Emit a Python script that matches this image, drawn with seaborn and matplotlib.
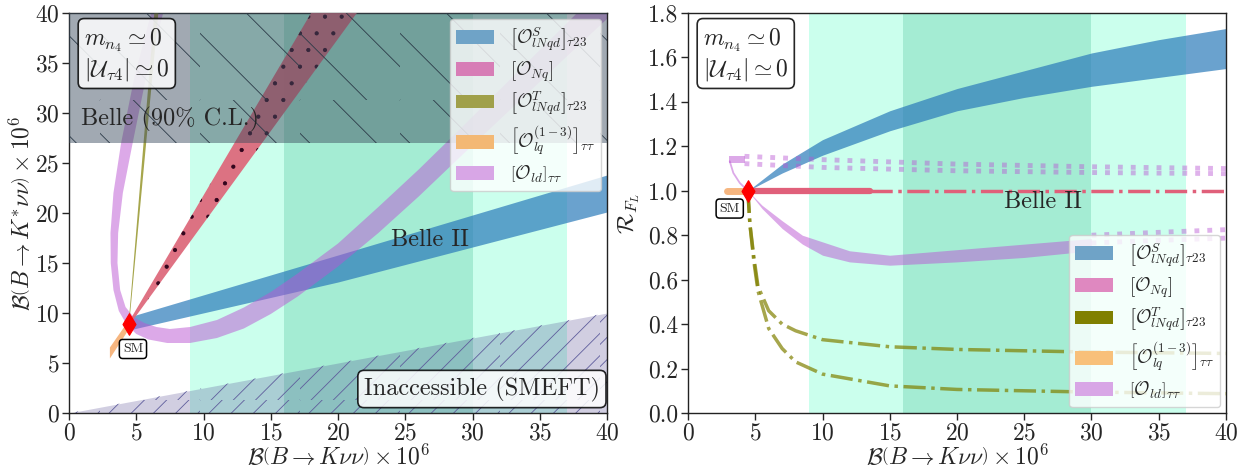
import numpy as np
import pandas as pd
import matplotlib
matplotlib.use('Agg')
import matplotlib.pyplot as plt
from matplotlib.patches import Patch
from matplotlib.backend_bases import GraphicsContextBase
import seaborn as sns

# sparser hatching than matplotlib's default (closer to the reference)
_hatch_path = GraphicsContextBase.get_hatch_path
GraphicsContextBase.get_hatch_path = lambda self, density=3.0: _hatch_path(self, density)

# ---- data (left panel: B(B->K*nunu) vs B(B->Knunu)) ----
sm_left = (4.45, 8.9)
sm_right = (4.45, 1.0)

belle2_1s = [16.0, 30.0]
belle2_2s = [9.0, 37.0]
belle_excl = 27.0

blue_x = [4.45, 20.0, 40.0]
blue_lo = [8.3, 13.1, 20.1]
blue_hi = [9.6, 15.8, 23.8]

red_y = [9.0, 40.0]
red_xl = [4.4, 18.0]
red_xr = [4.6, 21.4]

olive_y = [9.5, 40.0]
olive_xl = [4.42, 6.3]
olive_xr = [4.47, 6.6]

orange_x = [3.0, 4.45]
orange_lo = [5.5, 8.5]
orange_hi = [6.6, 9.4]

# purple U-shaped band: outer edge (left branch top -> bottom -> right branch) and inner edge
purple_out_x = [6.1, 4.86, 3.87, 3.3, 3.08, 3.1, 3.3, 3.7, 4.3, 5.0, 5.9, 7.3, 9.0, 11.0, 13.0, 15.0,
                17.0, 20.0, 23.0, 26.0, 29.0, 32.0, 35.0, 38.0, 40.0]
purple_out_y = [40.0, 33.6, 27.0, 22.0, 18.0, 15.0, 12.3, 10.2, 8.8, 7.9, 7.35, 7.0, 7.0, 7.5, 8.45, 9.9,
                11.65, 14.65, 18.0, 21.65, 25.5, 29.3, 33.1, 36.9, 39.4]
purple_in_x = [7.0, 5.73, 4.73, 4.0, 3.65, 3.6, 3.8, 4.2, 4.8, 5.6, 6.5, 7.5, 9.0, 11.0, 13.0, 15.0,
               17.0, 20.0, 23.0, 26.0, 29.0, 32.0, 35.0, 38.0, 40.0]
purple_in_y = [40.0, 33.6, 27.0, 22.0, 18.0, 15.0, 12.3, 10.6, 9.6, 9.0, 8.6, 8.4, 8.6, 9.3, 10.55, 12.1,
               13.95, 16.95, 20.6, 24.35, 28.3, 32.3, 36.3, 40.3, 43.0]

smeft_x = [0.0, 40.0]
smeft_hi = [0.0, 10.0]

# ---- right panel: R_FL vs B(B->Knunu) ----
rb_x = [4.45, 7.0, 10.0, 15.0, 20.0, 25.0, 30.0, 35.0, 40.0]
rb_lo = [1.0, 1.08, 1.16, 1.27, 1.36, 1.42, 1.47, 1.51, 1.55]
rb_hi = [1.0, 1.12, 1.23, 1.36, 1.46, 1.54, 1.62, 1.68, 1.73]

rp_x = [4.45, 5.5, 7.0, 8.5, 10.0, 12.0, 15.0, 20.0, 25.0, 30.0]
rp_lo = [1.0, 0.92, 0.83, 0.76, 0.71, 0.68, 0.665, 0.68, 0.70, 0.73]
rp_hi = [1.0, 0.935, 0.865, 0.80, 0.77, 0.73, 0.71, 0.735, 0.76, 0.785]
rp_thin_x = [3.1, 3.37, 3.85, 4.45]
rp_thin_y = [1.133, 1.08, 1.035, 1.0]
rp_cap_x = [3.05, 4.2]
rp_cap_lo = [1.125, 1.125]
rp_cap_hi = [1.155, 1.155]
rp_dot1_x = [4.2, 10.0, 20.0, 30.0, 40.0]
rp_dot1_y = [1.155, 1.14, 1.12, 1.108, 1.10]
rp_dot2_y = [1.122, 1.105, 1.09, 1.082, 1.077]
rp_dot3_x = [30.0, 35.0, 40.0]
rp_dot3_y = [0.80, 0.813, 0.825]
rp_dot4_y = [0.765, 0.777, 0.787]

nq_solid_x = [4.45, 13.5]
nq_dash_x = [13.5, 40.0]
lq_x = [2.9, 4.45]

ol_x = [4.45, 4.6, 4.9, 5.2, 6.0, 7.0, 8.0, 10.0, 15.0, 20.0, 30.0, 40.0]
ol_hi = [1.0, 0.85, 0.70, 0.57, 0.46, 0.40, 0.37, 0.33, 0.298, 0.286, 0.274, 0.268]
ol_lo = [1.0, 0.85, 0.68, 0.55, 0.38, 0.29, 0.23, 0.175, 0.122, 0.106, 0.094, 0.087]

labels = [r'$\left[\mathcal{O}^{S}_{lNqd}\right]_{\tau 23}$',
          r'$\left[\mathcal{O}_{Nq}\right]$',
          r'$\left[\mathcal{O}^{T}_{lNqd}\right]_{\tau 23}$',
          r'$\left[\mathcal{O}^{(1-3)}_{lq}\right]_{\tau\tau}$',
          r'$\left[\mathcal{O}_{ld}\right]_{\tau\tau}$']

c_blue = '#2b7bba'
c_red = '#de6a7c'
c_olive = 'olive'
c_orange = '#f4a460'
c_purple = 'mediumorchid'

sns.set_style('ticks')
plt.rcParams['font.family'] = 'serif'
plt.rcParams['font.serif'] = ['cmr10', 'DejaVu Serif']
plt.rcParams['mathtext.fontset'] = 'cm'
plt.rcParams['axes.formatter.use_mathtext'] = True
plt.rcParams['font.size'] = 17
plt.rcParams['hatch.linewidth'] = 0.6
plt.rcParams['axes.linewidth'] = 1.0

fig, (ax1, ax2) = plt.subplots(1, 2, figsize=(12.42, 4.72), dpi=100)
fig.subplots_adjust(left=0.0556, right=0.9871, bottom=0.125, top=0.9725, wspace=0.1506)


def belle2_bands(ax):
    ax.axvspan(*belle2_2s, color='aquamarine', alpha=0.4, lw=0, zorder=0.5)
    ax.axvspan(*belle2_1s, color='mediumaquamarine', alpha=0.38, lw=0, zorder=0.6)


def info_box(ax):
    ax.text(0.028, 0.968, r'$m_{n_4}\simeq 0$' + '\n' + r'$|\mathcal{U}_{\tau 4}|\simeq 0$',
            transform=ax.transAxes, ha='left', va='top', fontsize=17, linespacing=1.1, zorder=8,
            bbox=dict(boxstyle='round,pad=0.25', fc='white', ec='black', alpha=0.85, lw=1.2))


def legend(ax, colors, loc):
    handles = [Patch(color=c, lw=0) for c in colors]
    leg = ax.legend(handles, labels, loc=loc, fontsize=13.5, frameon=True, framealpha=0.8,
                    handlelength=2.0, handleheight=0.75, labelspacing=0.3, borderaxespad=0.3,
                    borderpad=0.35, handletextpad=0.85)
    leg.set_zorder(9)


# ---------------- left panel ----------------
belle2_bands(ax1)
ax1.fill_between(smeft_x, 0, smeft_hi, color='darkslateblue', alpha=0.25, lw=0, zorder=1)
ax1.fill_between(smeft_x, 0, smeft_hi, facecolor='none', edgecolor='#5f5d9c', hatch='///', lw=0, zorder=1.1)

ax1.fill_between(blue_x, blue_lo, blue_hi, color=c_blue, alpha=0.7, lw=0, zorder=2)
ax1.fill(np.r_[purple_out_x, purple_in_x[::-1]], np.r_[purple_out_y, purple_in_y[::-1]],
         color=c_purple, alpha=0.5, lw=0, zorder=2.5)
ax1.fill_betweenx(red_y, red_xl, red_xr, facecolor=c_red, edgecolor='#2a0018', hatch='..',
                  alpha=0.95, lw=0, zorder=3)
ax1.fill_betweenx(olive_y, olive_xl, olive_xr, color=c_olive, alpha=0.7, lw=0, zorder=3.2)
ax1.fill_between(orange_x, orange_lo, orange_hi, color=c_orange, alpha=0.8, lw=0, zorder=3.2)

ax1.axhspan(belle_excl, 40, color='#3c4d5e', alpha=0.48, lw=0, zorder=4)
ax1.axhspan(belle_excl, 40, facecolor='none', edgecolor='#2c3a48', hatch='\\', lw=0, zorder=4.1)

sns.scatterplot(x=[sm_left[0]], y=[sm_left[1]], marker='d', s=120, color='red', edgecolor='red',
                ax=ax1, zorder=6)
ax1.text(4.75, 6.4, 'SM', fontsize=10, ha='center', va='center', zorder=7,
         bbox=dict(boxstyle='round,pad=0.25', fc='white', ec='black', lw=1.1))
ax1.text(0.9, 29.4, 'Belle (90% C.L.)', fontsize=17.5, ha='left', va='center', zorder=7)
ax1.text(26.8, 17.3, 'Belle II', fontsize=17.5, ha='center', va='center', zorder=7)
ax1.text(30.7, 2.4, 'Inaccessible (SMEFT)', fontsize=17.5, ha='center', va='center', zorder=7,
         bbox=dict(boxstyle='round,pad=0.25', fc='white', ec='black', alpha=0.85, lw=1.2))
info_box(ax1)

ax1.set_xlim(0, 40)
ax1.set_ylim(0, 40)
ax1.set_xticks(range(0, 41, 5))
ax1.set_yticks(range(0, 41, 5))
ax1.set_xlabel(r'$\mathcal{B}\left(B\to K\nu\nu\right)\times 10^{6}$', fontsize=17, labelpad=-1)
ax1.set_ylabel(r'$\mathcal{B}\left(B\to K^{*}\nu\nu\right)\times 10^{6}$', fontsize=17, labelpad=0)
legend(ax1, ['#6fa3c7', '#d77db6', '#a0a04a', '#f3b874', '#d8a6e6'], 'upper right')

# ---------------- right panel ----------------
belle2_bands(ax2)
ax2.fill_between(rb_x, rb_lo, rb_hi, color=c_blue, alpha=0.7, lw=0, zorder=2)
ax2.fill_between(rp_x, rp_lo, rp_hi, color=c_purple, alpha=0.5, lw=0, zorder=2.5)
ax2.fill_between(rp_cap_x, rp_cap_lo, rp_cap_hi, color=c_purple, alpha=0.5, lw=0, zorder=2.5)
sns.lineplot(x=rp_thin_x, y=rp_thin_y, color=c_purple, alpha=0.5, lw=1.3, ax=ax2, sort=False,
             estimator=None, zorder=2.5)
for xs, ys in [(rp_dot1_x, rp_dot1_y), (rp_dot1_x, rp_dot2_y), (rp_dot3_x, rp_dot3_y), (rp_dot3_x, rp_dot4_y)]:
    sns.lineplot(x=xs, y=ys, color=c_purple, alpha=0.45, lw=3.5, ls=':', ax=ax2, sort=False,
                 estimator=None, zorder=2.5)

sns.lineplot(x=nq_solid_x, y=[1.0, 1.0], color='#e0607a', lw=4.5, ax=ax2, estimator=None, zorder=3)
sns.lineplot(x=nq_dash_x, y=[1.0, 1.0], color='#e0607a', lw=2.5, ls='-.', ax=ax2, estimator=None, zorder=3)
sns.lineplot(x=lq_x, y=[1.0, 1.0], color=c_orange, alpha=0.8, lw=5, ax=ax2, estimator=None, zorder=2.8,
             solid_capstyle='round')
for ys in [ol_hi, ol_lo]:
    sns.lineplot(x=ol_x, y=ys, color=c_olive, alpha=0.7, lw=2.5, ls='-.', ax=ax2, sort=False,
                 estimator=None, zorder=3.2)

sns.scatterplot(x=[sm_right[0]], y=[sm_right[1]], marker='d', s=120, color='red', edgecolor='red',
                ax=ax2, zorder=6)
ax2.text(3.1, 0.92, 'SM', fontsize=10, ha='center', va='center', zorder=7,
         bbox=dict(boxstyle='round,pad=0.25', fc='white', ec='black', lw=1.1))
ax2.text(26.4, 0.95, 'Belle II', fontsize=17.5, ha='center', va='center', zorder=7)
info_box(ax2)

ax2.set_xlim(0, 40)
ax2.set_ylim(0, 1.8)
ax2.set_xticks(range(0, 41, 5))
ax2.set_yticks(np.arange(0, 1.81, 0.2))
ax2.set_yticklabels([f'{v:.1f}' for v in np.arange(0, 1.81, 0.2)])
ax2.set_xlabel(r'$\mathcal{B}\left(B\to K\nu\nu\right)\times 10^{6}$', fontsize=17, labelpad=-1)
ax2.set_ylabel(r'$\mathcal{R}_{F_L}$', fontsize=17, labelpad=4)
legend(ax2, ['#6fa3c7', '#df88c0', '#808000', '#f8c07a', '#d8a6e6'], 'lower right')

for ax in (ax1, ax2):
    ax.tick_params(labelsize=17, direction='out', length=5, width=1, pad=2)
    for s in ax.spines.values():
        s.set_visible(True)
        s.set_color('#222222')

fig.savefig('out.png', dpi=100)
